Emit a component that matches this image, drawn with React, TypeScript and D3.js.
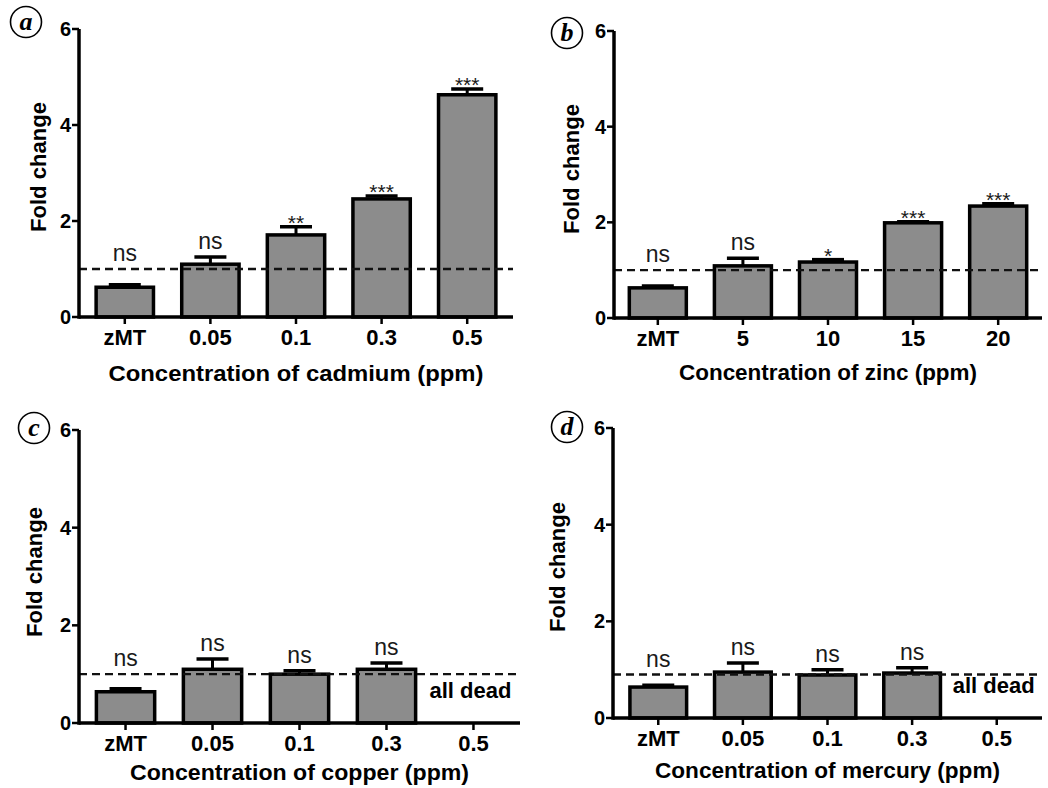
import React, { useEffect, useRef } from 'react';
import * as d3 from 'd3';

// panel a - cadmium
const cadmiumCats = ["zMT", "0.05", "0.1", "0.3", "0.5"];
const cadmiumMean = [0.62, 1.10, 1.71, 2.46, 4.63];
const cadmiumErr = [0.05, 0.15, 0.17, 0.06, 0.12];
const cadmiumSig = ["ns", "ns", "**", "***", "***"];

// panel b - zinc
const zincCats = ["zMT", "5", "10", "15", "20"];
const zincMean = [0.63, 1.09, 1.17, 1.99, 2.34];
const zincErr = [0.04, 0.16, 0.05, 0.02, 0.05];
const zincSig = ["ns", "ns", "*", "***", "***"];

// panel c - copper (0.5 ppm: all dead)
const copperCats = ["zMT", "0.05", "0.1", "0.3", "0.5"];
const copperMean = [0.64, 1.10, 1.00, 1.10, null];
const copperErr = [0.06, 0.21, 0.07, 0.13, null];
const copperSig = ["ns", "ns", "ns", "ns", null];

// panel d - mercury (0.5 ppm: all dead)
const mercuryCats = ["zMT", "0.05", "0.1", "0.3", "0.5"];
const mercuryMean = [0.64, 0.95, 0.89, 0.93, null];
const mercuryErr = [0.04, 0.19, 0.11, 0.11, null];
const mercurySig = ["ns", "ns", "ns", "ns", null];

const yTicks = [0, 2, 4, 6];
const panelLetters = ["a", "b", "c", "d"];
const metals = ["cadmium", "zinc", "copper", "mercury"];
const refLines = [1, 1, 1, 0.9];

const panels = [
    { cats: cadmiumCats, mean: cadmiumMean, err: cadmiumErr, sig: cadmiumSig },
    { cats: zincCats, mean: zincMean, err: zincErr, sig: zincSig },
    { cats: copperCats, mean: copperMean, err: copperErr, sig: copperSig },
    { cats: mercuryCats, mean: mercuryMean, err: mercuryErr, sig: mercurySig },
];

// layout of each panel (pixels)
const layout = [
    { x0: 79, x1: 513, top: 29, bottom: 317, po: 0.2, circle: [26, 22], ylab: [38, 167], titleDy: 64, titleLen: 375 },
    { x0: 614, x1: 1042, top: 31, bottom: 318, po: 0.18, circle: [567, 33], ylab: [571, 169], titleDy: 62, titleLen: 298 },
    { x0: 79, x1: 520, top: 430, bottom: 723, po: 0.2, circle: [34, 428], ylab: [34, 572], titleDy: 57, titleLen: 339 },
    { x0: 613, x1: 1042, top: 428, bottom: 718, po: 0.2, circle: [567, 427], ylab: [557, 567], titleDy: 60, titleLen: 345 },
];

const FONT = "'Liberation Sans', Arial, sans-serif";

function App() {
    const ref = useRef(null);

    useEffect(() => {
        document.body.style.margin = "0";
        const svg = d3.select(ref.current);
        svg.selectAll("*").remove();

        panels.forEach((p, i) => {
            const L = layout[i];
            const g = svg.append("g");

            const x = d3.scaleBand()
                .domain(p.cats)
                .range([L.x0, L.x1])
                .paddingInner(0.33)
                .paddingOuter(L.po);
            const y = d3.scaleLinear().domain([0, 6]).range([L.bottom, L.top]);
            const cx = (c) => x(c) + x.bandwidth() / 2;

            const data = p.cats.map((c, j) => ({ cat: c, mean: p.mean[j], err: p.err[j], sig: p.sig[j] }));
            const alive = data.filter(d => d.mean != null);

            // bars
            g.selectAll(".bar")
                .data(alive)
                .enter()
                .append("rect")
                .attr("x", d => x(d.cat))
                .attr("y", d => y(d.mean))
                .attr("width", x.bandwidth())
                .attr("height", d => y(0) - y(d.mean))
                .attr("fill", "#8c8c8c")
                .attr("stroke", "#000")
                .attr("stroke-width", 3.5);

            // error bars
            const capW = 32;
            alive.forEach(d => {
                g.append("line")
                    .attr("x1", cx(d.cat)).attr("x2", cx(d.cat))
                    .attr("y1", y(d.mean)).attr("y2", y(d.mean + d.err))
                    .attr("stroke", "#000").attr("stroke-width", 3);
                g.append("line")
                    .attr("x1", cx(d.cat) - capW / 2).attr("x2", cx(d.cat) + capW / 2)
                    .attr("y1", y(d.mean + d.err)).attr("y2", y(d.mean + d.err))
                    .attr("stroke", "#000").attr("stroke-width", 3.5);
            });

            // reference line
            g.append("line")
                .attr("x1", L.x0).attr("x2", L.x1)
                .attr("y1", y(refLines[i])).attr("y2", y(refLines[i]))
                .attr("stroke", "#111").attr("stroke-width", 2.4)
                .attr("stroke-dasharray", "8,5");

            // significance labels
            alive.forEach(d => {
                const top = Math.min(y(d.mean + d.err), y(refLines[i]));
                const isStar = d.sig.startsWith("*");
                g.append("text")
                    .attr("x", cx(d.cat))
                    .attr("y", isStar ? y(d.mean + d.err) + 3 : top - 8)
                    .attr("text-anchor", "middle")
                    .attr("font-family", FONT)
                    .attr("font-size", isStar ? 21 : 23)
                    .attr("fill", "#1a1a1a")
                    .text(d.sig);
            });

            // dead groups
            data.filter(d => d.mean == null).forEach(d => {
                g.append("text")
                    .attr("x", cx(d.cat) - 3)
                    .attr("y", y(0) - 25)
                    .attr("text-anchor", "middle")
                    .attr("font-family", FONT)
                    .attr("font-weight", "bold")
                    .attr("font-size", 22)
                    .text("all dead");
            });

            // axes
            g.append("line")
                .attr("x1", L.x0).attr("x2", L.x1)
                .attr("y1", y(0)).attr("y2", y(0))
                .attr("stroke", "#000").attr("stroke-width", 3.5);
            g.append("line")
                .attr("x1", L.x0).attr("x2", L.x0)
                .attr("y1", y(0) + 1.75).attr("y2", y(6))
                .attr("stroke", "#000").attr("stroke-width", 3.5);

            yTicks.forEach(t => {
                g.append("line")
                    .attr("x1", L.x0 - 7).attr("x2", L.x0)
                    .attr("y1", y(t)).attr("y2", y(t))
                    .attr("stroke", "#000").attr("stroke-width", 2.5);
                g.append("text")
                    .attr("x", L.x0 - 8)
                    .attr("y", y(t) + 7)
                    .attr("text-anchor", "end")
                    .attr("font-family", FONT)
                    .attr("font-weight", "bold")
                    .attr("font-size", 20)
                    .text(t);
            });

            p.cats.forEach(c => {
                g.append("line")
                    .attr("x1", cx(c)).attr("x2", cx(c))
                    .attr("y1", y(0)).attr("y2", y(0) + 7)
                    .attr("stroke", "#000").attr("stroke-width", 2.5);
                g.append("text")
                    .attr("x", cx(c))
                    .attr("y", y(0) + 28)
                    .attr("text-anchor", "middle")
                    .attr("font-family", FONT)
                    .attr("font-weight", "bold")
                    .attr("font-size", 22)
                    .text(c);
            });

            // axis titles
            g.append("text")
                .attr("x", (L.x0 + L.x1) / 2)
                .attr("y", y(0) + L.titleDy)
                .attr("text-anchor", "middle")
                .attr("font-family", FONT)
                .attr("font-weight", "bold")
                .attr("font-size", 22)
                .attr("textLength", L.titleLen)
                .attr("lengthAdjust", "spacingAndGlyphs")
                .text(`Concentration of ${metals[i]} (ppm)`);

            g.append("text")
                .attr("transform", `translate(${L.ylab[0] + 8},${L.ylab[1]}) rotate(-90)`)
                .attr("text-anchor", "middle")
                .attr("font-family", FONT)
                .attr("font-weight", "bold")
                .attr("font-size", 22)
                .attr("textLength", 130)
                .attr("lengthAdjust", "spacingAndGlyphs")
                .text("Fold change");

            // panel letter
            g.append("circle")
                .attr("cx", L.circle[0]).attr("cy", L.circle[1])
                .attr("r", 15.5)
                .attr("fill", "none")
                .attr("stroke", "#000")
                .attr("stroke-width", 1.6);
            g.append("text")
                .attr("x", L.circle[0])
                .attr("y", L.circle[1] + 8)
                .attr("text-anchor", "middle")
                .attr("font-family", "'Liberation Serif', 'Times New Roman', serif")
                .attr("font-style", "italic")
                .attr("font-weight", "bold")
                .attr("font-size", 26)
                .text(panelLetters[i]);
        });
    });

    return (
        <svg ref={ref} width={1048} height={788} style={{ display: "block", background: "#fff" }}></svg>
    );
}

export default App;
